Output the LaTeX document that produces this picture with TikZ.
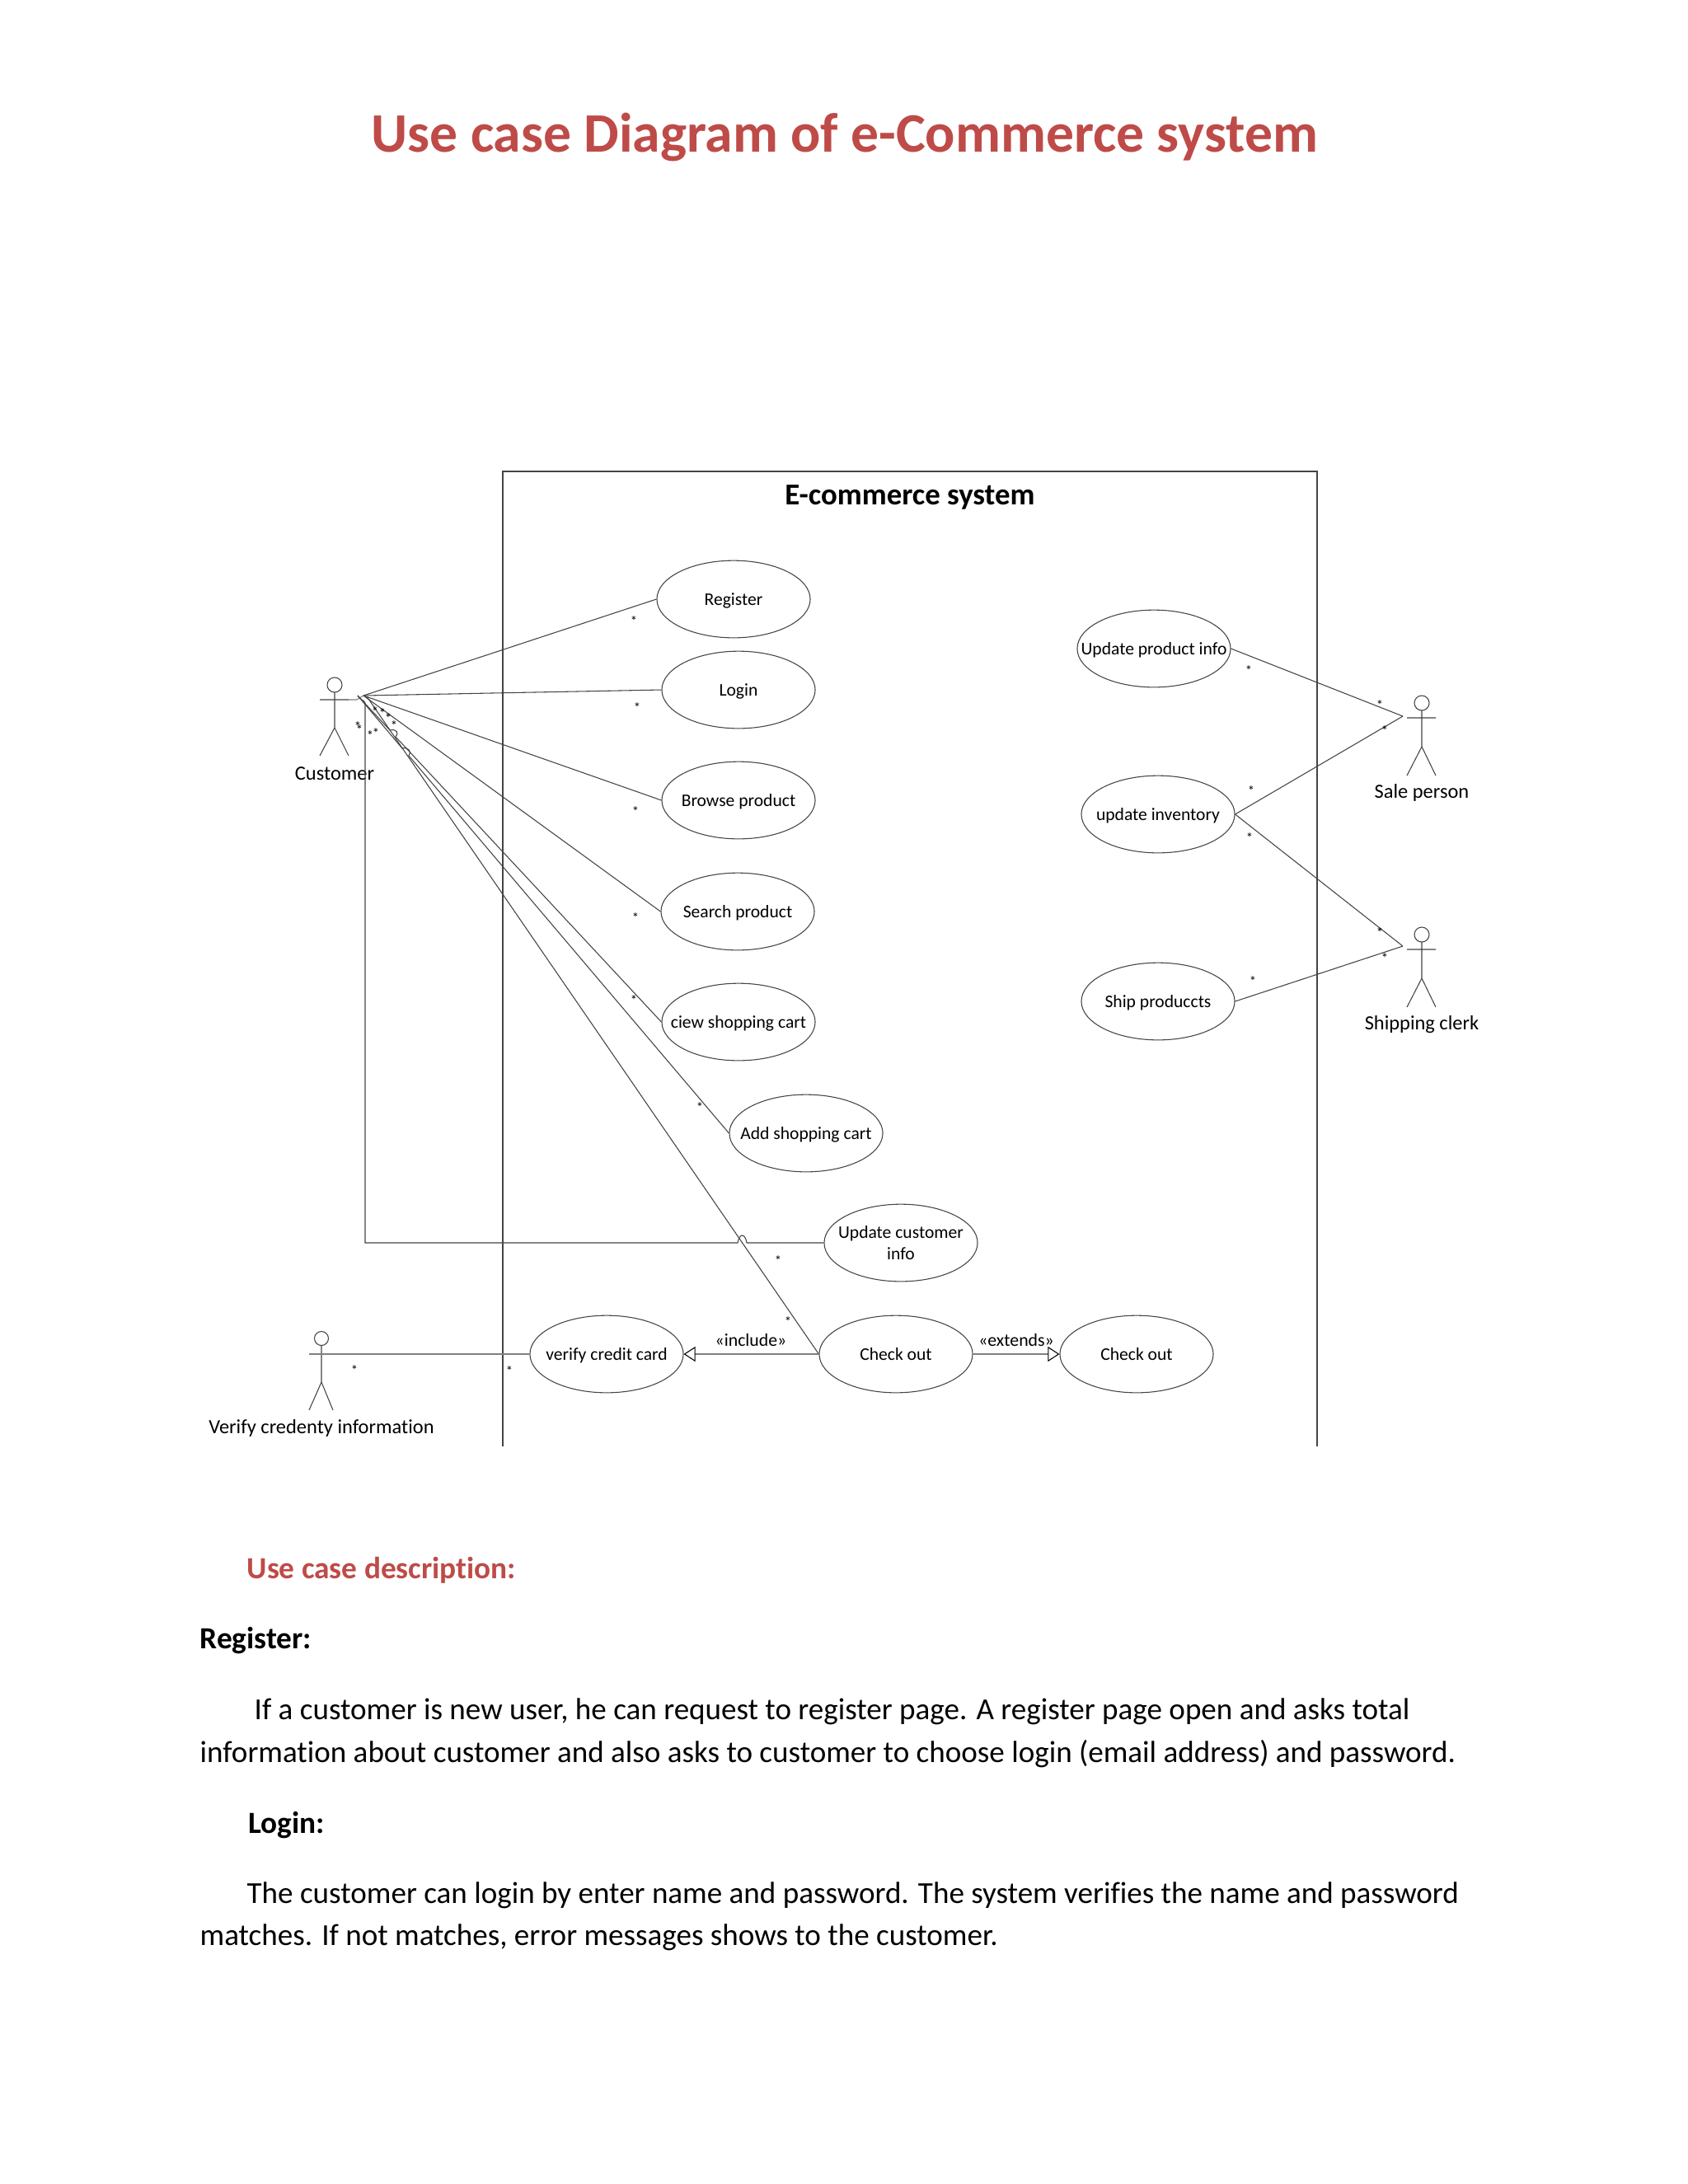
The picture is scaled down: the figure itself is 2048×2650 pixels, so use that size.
\documentclass[tikz,border=0pt]{standalone}
\usepackage{fontspec}
\setmainfont{Carlito}[Ligatures=NoCommon]
\usetikzlibrary{shapes.geometric, arrows.meta}

\definecolor{titlered}{HTML}{BE4B48}
\definecolor{linegray}{HTML}{444444}

\tikzset{
ucshape/.style={draw=linegray, ellipse, line width=0.32pt, minimum width=55.6pt, minimum height=28pt, inner xsep=-12pt, inner ysep=0pt, align=center, font=\fontsize{6.45}{7.6}\selectfont},
usecase/.style={ucshape, text height=5.2pt, text depth=1pt},
actorlabel/.style={font=\fontsize{7.3}{8}\selectfont},
stereo/.style={font=\fontsize{6.5}{8}\selectfont},
mult/.style={font=\fontsize{5}{5}\selectfont, inner sep=0pt},
assoc/.style={draw=linegray, line width=0.32pt},
opentip/.style={-{Triangle[open, length=4.2pt, width=5.4pt, line width=0.32pt, color=black]}},
heading/.style={anchor=base west, inner sep=0pt, font=\fontsize{11.15}{14}\bfseries\selectfont},
bodytext/.style={anchor=base west, inner sep=0pt, font=\fontsize{11.08}{14}\selectfont},
}

\begin{document}
\begin{tikzpicture}[x=0.2988pt, y=-0.2988pt]
\useasboundingbox (0,0) rectangle (2048,2650);

\node[text=titlered, font=\fontsize{20.2}{24}\bfseries\selectfont] (title) at (1025,166) {Use case Diagram of e-Commerce system};

% system box, open at the bottom
\coordinate (boxBL) at (610,1755);
\coordinate (boxTL) at (610,572);
\coordinate (boxTR) at (1598,572);
\coordinate (boxBR) at (1598,1755);
\draw[assoc, line width=0.45pt] (boxBL) -- (boxTL) -- (boxTR) -- (boxBR);
\node[font=\fontsize{11}{13}\bfseries\selectfont] (sysname) at (1104,603) {E-commerce system};

% use cases
\node[usecase] (register) at (890,727) {Register};
\node[usecase] (login) at (896,837) {Login};
\node[usecase] (browse) at (896,971) {Browse product};
\node[usecase] (search) at (895,1106) {Search product};
\node[usecase] (viewcart) at (896,1240) {ciew shopping cart};
\node[usecase] (addcart) at (978,1375) {Add shopping cart};
\node[ucshape] (updcust) at (1093,1508) {Update customer\\info};
\node[usecase] (verify) at (736,1643) {verify credit card};
\node[usecase] (checkout) at (1087,1643) {Check out};
\node[usecase] (checkoutB) at (1379,1643) {Check out};
\node[usecase] (updprod) at (1400,787) {Update product info};
\node[usecase] (inventory) at (1405,988) {update inventory};
\node[usecase] (ship) at (1405,1215) {Ship produccts};

% customer
\draw[assoc] (406,831) circle (9);
\draw[assoc] (388,849) -- (423,849) (406,840) -- (406,883) (388,917) -- (406,883) -- (423,917);
\draw[gray, line width=0.32pt] (423,849) -- (433,849) -- (441,844);
\node[actorlabel] (customer) at (406,939) {Customer};
\coordinate (custHub) at (441,844);
\coordinate (custHubL) at (434,844);
\coordinate (custHubR) at (445,845);

% sale person
\draw[assoc] (1725,853) circle (9);
\draw[assoc] (1707,871) -- (1742,871) (1725,862) -- (1725,906) (1707,941) -- (1725,906) -- (1742,941);
\node[actorlabel] (saleperson) at (1725,962) {Sale person};
\coordinate (saleHub) at (1702,869);

% shipping clerk
\draw[assoc] (1725,1134) circle (9);
\draw[assoc] (1707,1152) -- (1742,1152) (1725,1143) -- (1725,1187) (1707,1222) -- (1725,1187) -- (1742,1222);
\node[actorlabel] (clerk) at (1725,1243) {Shipping clerk};
\coordinate (clerkHub) at (1702,1148);

% verify actor
\draw[assoc] (390,1624) circle (8.5);
\draw[assoc] (390,1633) -- (390,1677) (375,1711) -- (390,1677) -- (404,1711);
\node[actorlabel] (verifier) at (390,1733) {Verify credenty information};
\coordinate (verifyArm) at (375,1643);

% connectors
\draw[assoc] (custHub) -- (register.west);
\draw[assoc] (custHub) -- (login.west);
\draw[assoc] (custHub) -- (browse.west);
\draw[assoc] (custHub) -- (search.west);
\coordinate (viewJumpA) at (473,886);
\coordinate (viewJumpB) at (480,894);
\draw[assoc] (custHubL) -- (viewJumpA) .. controls (482,884) and (484,890) .. (viewJumpB) -- (viewcart.west);
\coordinate (addJumpA) at (488,908);
\coordinate (addJumpB) at (496,917);
\draw[assoc] (custHubL) -- (addJumpA) .. controls (495,906) and (500,912) .. (addJumpB) -- (addcart.west);
\draw[assoc] (custHubR) -- (checkout.west);
\coordinate (jumpR) at (906,1508);
\coordinate (jumpL) at (895,1508);
\coordinate (corner) at (443,1508);
\coordinate (cornerTop) at (443,853);
\draw[assoc] (updcust.west) -- (jumpR) .. controls (904,1496) and (897,1496) .. (jumpL) -- (corner) -- (cornerTop) .. controls (441,848) and (438,851) .. (custHubL);
\draw[assoc] (updprod.east) -- (saleHub);
\draw[assoc] (inventory.east) -- (saleHub);
\draw[assoc] (inventory.east) -- (clerkHub);
\draw[assoc] (ship.east) -- (clerkHub);
\draw[assoc, gray, line width=0.5pt] (verifyArm) -- (verify.west);
\draw[assoc, gray, line width=0.5pt, opentip] (checkout.west) -- (verify.east);
\draw[assoc, gray, line width=0.5pt, opentip] (checkout.east) -- (checkoutB.west);
\node[stereo] (includelbl) at (911,1626) {«include»};
\node[stereo] (extendslbl) at (1233,1626) {«extends»};

% multiplicity stars
\foreach \x/\y [count=\i] in {434/882, 436/886, 449/893, 456/890, 455/864, 464/866, 471/872, 478/881, 769/754, 773/859, 771/985, 771/1114, 769/1214, 849/1344, 944/1530, 956/1604, 430/1663, 618/1664, 1515/814, 1674/856, 1680/887, 1518/960, 1516/1017, 1674/1132, 1680/1163, 1520/1191}
  \node[mult] (star\i) at (\x,\y) {*};

% description text
\node[heading, text=titlered] (desc) at (299,1915) {Use case description:};
\node[heading] (regH) at (242,2000) {Register:};
\node[bodytext] (regA) at (308,2086) {If a customer is new user, he can request to register page. A register page open and asks total};
\node[bodytext] (regB) at (242,2138) {information about customer and also asks to customer to choose login (email address) and password.};
\node[heading] (logH) at (301,2224) {Login:};
\node[bodytext] (logA) at (299,2309) {The customer can login by enter name and password. The system verifies the name and password};
\node[bodytext] (logB) at (242,2360) {matches. If not matches, error messages shows to the customer.};
\end{tikzpicture}
\end{document}
